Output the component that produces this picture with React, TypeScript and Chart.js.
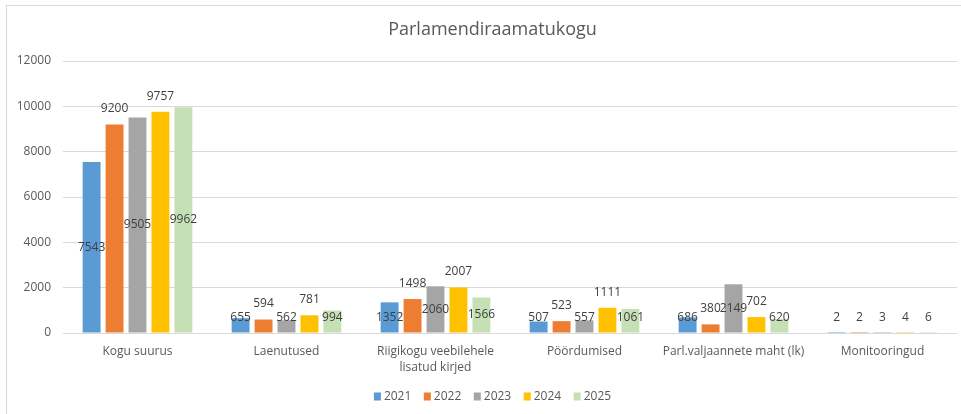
import React, { useEffect, useRef } from "react";
import { Chart, registerables } from "chart.js";

Chart.register(...registerables);

const TITLE = "Parlamendiraamatukogu";
const CATEGORIES: (string | string[])[] = [
  "Kogu suurus",
  "Laenutused",
  ["Riigikogu veebilehele", "lisatud kirjed"],
  "Pöördumised",
  "Parl.valjaannete maht (lk)",
  "Monitooringud",
];
const YEARS = ["2021", "2022", "2023", "2024", "2025"];
const V2021 = [7543, 655, 1352, 507, 686, 2];
const V2022 = [9200, 594, 1498, 523, 380, 2];
const V2023 = [9505, 562, 2060, 557, 2149, 3];
const V2024 = [9757, 781, 2007, 1111, 702, 4];
const V2025 = [9962, 994, 1566, 1061, 620, 6];
const SERIES = [V2021, V2022, V2023, V2024, V2025];
const COLORS = ["#5B9BD5", "#ED7D31", "#A5A5A5", "#FFC000", "#C5E0B4"];
const Y_MAX = 12000;
const Y_STEP = 2000;

const FONT = "'Open Sans', 'Noto Sans', sans-serif";

const decorPlugin = {
  id: "decor",
  beforeDraw(chart: any) {
    const ctx = chart.ctx;
    ctx.save();
    ctx.fillStyle = "#ffffff";
    ctx.fillRect(0, 0, chart.width, chart.height);
    ctx.strokeStyle = "#D9D9D9";
    ctx.lineWidth = 1;
    ctx.strokeRect(6.5, 5.5, chart.width + 20, chart.height + 20);
    ctx.restore();
  },
  afterDraw(chart: any) {
    const ctx = chart.ctx;
    const cx = 492.5;
    ctx.save();
    // title
    ctx.font = `18px ${FONT}`;
    ctx.fillStyle = "#595959";
    ctx.textAlign = "center";
    ctx.textBaseline = "middle";
    ctx.fillText(TITLE, cx, 30);
    // legend
    ctx.font = `12px ${FONT}`;
    const box = 7;
    const gapText = 3;
    const gapItem = 12.5;
    const items = chart.data.datasets.map((d: any) => ({
      label: d.label,
      color: d.backgroundColor,
      w: ctx.measureText(d.label).width,
    }));
    let total = 0;
    items.forEach((it: any, i: number) => {
      total += box + gapText + it.w + (i < items.length - 1 ? gapItem : 0);
    });
    let x = cx - total / 2;
    const y = 396.5;
    ctx.textAlign = "left";
    items.forEach((it: any) => {
      ctx.fillStyle = it.color;
      ctx.fillRect(x, y - 4, box, box + 1);
      ctx.fillStyle = "#595959";
      ctx.fillText(it.label, x + box + gapText, y);
      x += box + gapText + it.w + gapItem;
    });
    ctx.restore();
  },
  afterDatasetsDraw(chart: any) {
    const ctx = chart.ctx;
    ctx.save();
    ctx.font = `12px ${FONT}`;
    ctx.fillStyle = "#404040";
    ctx.textAlign = "center";
    ctx.textBaseline = "middle";
    chart.data.datasets.forEach((ds: any, di: number) => {
      const meta = chart.getDatasetMeta(di);
      meta.data.forEach((bar: any, i: number) => {
        const top = bar.y;
        const base = bar.base;
        let y: number;
        if (di % 2 === 0) {
          y = Math.min((top + base) / 2, base - 15);
        } else {
          y = top - 15.5;
        }
        ctx.fillText(String(ds.data[i]), bar.x, y);
      });
    });
    ctx.restore();
  },
};

export default function App() {
  const ref = useRef<HTMLCanvasElement | null>(null);
  useEffect(() => {
    if (!ref.current) return;
    Chart.defaults.font.family = FONT;
    const chart = new Chart(ref.current, {
      type: "bar",
      data: {
        labels: CATEGORIES,
        datasets: SERIES.map((s, i) => ({
          label: YEARS[i],
          data: s,
          backgroundColor: COLORS[i],
          borderWidth: 0,
          categoryPercentage: 0.77,
          barPercentage: 0.78,
        })),
      },
      options: {
        responsive: false,
        animation: false,
        devicePixelRatio: 1,
        layout: { padding: { top: 61, right: 4, left: 0, bottom: 20 } },
        plugins: {
          legend: { display: false },
          title: { display: false },
          tooltip: { enabled: false },
        },
        scales: {
          y: {
            min: 0,
            max: Y_MAX,
            ticks: {
              stepSize: Y_STEP,
              color: "#595959",
              font: { size: 12, family: FONT },
              padding: 12,
              callback: (v: any) => String(v),
            },
            grid: { color: "#D9D9D9", drawTicks: false, lineWidth: 1 },
            border: { display: false },
            afterFit: (s: any) => {
              s.width = 63;
            },
          },
          x: {
            grid: { display: false, drawTicks: false },
            border: { display: false },
            ticks: {
              color: "#595959",
              font: { size: 12, family: FONT, lineHeight: 1.3 },
              padding: 11,
              maxRotation: 0,
              autoSkip: false,
            },
            afterFit: (s: any) => {
              s.height = 61;
            },
          },
        },
      },
      plugins: [decorPlugin],
    });
    return () => chart.destroy();
  }, []);
  return (
    <div style={{ position: "fixed", left: 0, top: 0, width: 961, height: 414 }}>
      <canvas ref={ref} width={961} height={414} style={{ width: 961, height: 414 }} />
    </div>
  );
}
